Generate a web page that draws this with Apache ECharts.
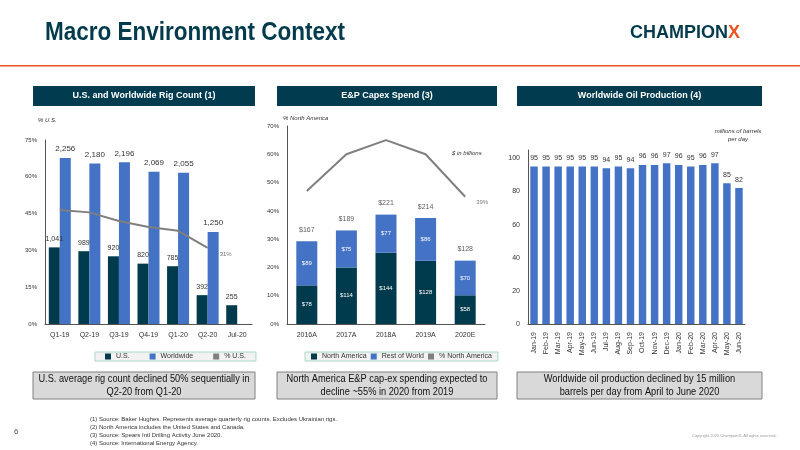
<!DOCTYPE html>
<html><head><meta charset="utf-8">
<script src="https://cdn.jsdelivr.net/npm/echarts@6/dist/echarts.min.js"></script>
<style>html,body{margin:0;padding:0;background:#fff}#c{width:800px;height:450px}</style>
</head><body><div id="c"></div>
<script>
const rigCats=['Q1-19','Q2-19','Q3-19','Q4-19','Q1-20','Q2-20','Jul-20'];
const rigUS=[1041,989,920,820,785,392,255];
const rigWW=[2256,2180,2196,2069,2055,1250,null];
const rigPct=[46.5,45.5,42,39.5,38,31,null];
const capCats=['2016A','2017A','2018A','2019A','2020E'];
const capNA=[78,114,144,128,58];
const capRW=[89,75,77,86,70];
const capTot=[167,189,221,214,128];
const capPct=[47,60,65,60,45];
const oilCats=['Jan-19','Feb-19','Mar-19','Apr-19','May-19','Jun-19','Jul-19','Aug-19','Sep-19','Oct-19','Nov-19','Dec-19','Jan-20','Feb-20','Mar-20','Apr-20','May-20','Jun-20'];
const oilVals=[95,95,95,95,95,95,94,95,94,96,96,97,96,95,96,97,85,82];

const DARK='#003A4D',BLUE='#4472C4',GRAY='#7F7F7F';
const F='Liberation Sans, Arial, sans-serif';
const ax={fontSize:7,color:'#333',fontFamily:F};
const lbl={show:true,fontSize:8,color:'#333',fontFamily:F};

function header(x,w,t){return [{type:'rect',shape:{x:x,y:86,width:w,height:20},style:{fill:'#003B4F'}},
 {type:'text',x:x+w/2,y:96,style:{text:t,fill:'#fff',font:'bold 9px '+F,align:'center',verticalAlign:'middle'}}];}
function box(x,w,t){return [{type:'rect',shape:{x:x,y:372,width:w,height:27},style:{fill:'#D9D9D9',stroke:'#808080',lineWidth:1}},
 {type:'text',x:x+w/2,y:385.5,scaleX:0.84,style:{text:t,fill:'#111',font:'11px '+F,align:'center',verticalAlign:'middle',lineHeight:13}}];}

const chart=echarts.init(document.getElementById('c'));
chart.setOption({
 animation:false,
 textStyle:{fontFamily:F},
 graphic:[
  {type:'text',x:45,y:21,scaleX:0.9,style:{text:'Macro Environment Context',fill:DARK,font:'bold 25px '+F}},
  {type:'text',x:630,y:24,style:{text:'{a|CHAMPION}{b|X}',rich:{a:{fill:DARK,font:'bold 18px '+F},b:{fill:'#E8541E',font:'bold 18px '+F}}}},
  {type:'rect',shape:{x:0,y:65,width:800,height:1.5},style:{fill:'#E8541E'}},
  ...header(33,222,'U.S. and Worldwide Rig Count (1)'),
  ...header(277,220,'E&P Capex Spend (3)'),
  ...header(517,245,'Worldwide Oil Production (4)'),
  ...box(33,222,'U.S. average rig count declined 50% sequentially in\nQ2-20 from Q1-20'),
  ...box(277,220,'North America E&P cap-ex spending expected to\ndecline ~55% in 2020 from 2019'),
  ...box(517,245,'Worldwide oil production declined by 15 million\nbarrels per day from April to June 2020'),
  {type:'text',x:38,y:117,style:{text:'% U.S.',fill:'#333',font:'italic 6px '+F}},
  {type:'text',x:283,y:115,style:{text:'% North America',fill:'#333',font:'italic 6px '+F}},
  {type:'text',x:452,y:150,style:{text:'$ in billions',fill:'#333',font:'italic 6px '+F}},
  {type:'text',x:738,y:127,style:{text:'millions of barrels\nper day',fill:'#333',font:'italic 6px '+F,align:'center',lineHeight:8}},
  {type:'text',x:90,y:415,style:{text:'(1) Source: Baker Hughes. Represents average quarterly rig counts. Excludes Ukrainian rigs.\n(2) North America includes the United States and Canada.\n(3) Source: Spears Intl Drilling Activity June 2020.\n(4) Source: International Energy Agency.',fill:'#333',font:'6px '+F,lineHeight:8}},
  {type:'text',x:14,y:428,style:{text:'6',fill:'#555',font:'8px '+F}},
  {type:'text',x:692,y:434,style:{text:'Copyright 2020 ChampionX. All rights reserved.',fill:'#999',font:'4px '+F}}
 ],
 legend:[
  {left:95,top:352,data:['U.S.','Worldwide','% U.S.'],itemWidth:6,itemHeight:6,itemGap:20,icon:'rect',
   textStyle:{fontSize:7,color:'#333'},borderColor:'#A8D8C8',borderWidth:1,backgroundColor:'#F2F2F2',padding:[1,10]},
  {left:305,top:352,data:['North America','Rest of World','% North America'],itemWidth:6,itemHeight:6,itemGap:4,icon:'rect',
   textStyle:{fontSize:7,color:'#333'},borderColor:'#A8D8C8',borderWidth:1,backgroundColor:'#F2F2F2',padding:[1,6]}
 ],
 grid:[
  {left:45,top:140,width:207,height:184},
  {left:287,top:126,width:198,height:198},
  {left:528,top:150,width:217,height:174}
 ],
 xAxis:[
  {type:'category',gridIndex:0,data:rigCats,axisTick:{show:false},axisLine:{lineStyle:{color:'#555'}},axisLabel:ax},
  {type:'category',gridIndex:1,data:capCats,axisTick:{show:false},axisLine:{lineStyle:{color:'#555'}},axisLabel:ax},
  {type:'category',gridIndex:2,data:oilCats,axisTick:{show:false},axisLine:{lineStyle:{color:'#555'}},axisLabel:{...ax,rotate:90,interval:0}}
 ],
 yAxis:[
  {type:'value',gridIndex:0,min:0,max:75,interval:15,axisLabel:{...ax,fontSize:6,formatter:'{value}%'},axisLine:{show:true,lineStyle:{color:'#555'}},splitLine:{show:false}},
  {type:'value',gridIndex:0,min:0,max:2500,show:false,splitLine:{show:false}},
  {type:'value',gridIndex:1,min:0,max:70,interval:10,axisLabel:{...ax,fontSize:6,formatter:'{value}%'},axisLine:{show:true,lineStyle:{color:'#555'}},splitLine:{show:false}},
  {type:'value',gridIndex:1,min:0,max:400,show:false,splitLine:{show:false}},
  {type:'value',gridIndex:2,min:0,max:105,interval:20,axisLabel:{...ax,showMaxLabel:false},axisLine:{show:true,lineStyle:{color:'#555'}},splitLine:{show:false}}
 ],
 series:[
  {name:'U.S.',type:'bar',xAxisIndex:0,yAxisIndex:1,data:rigUS,itemStyle:{color:DARK},barWidth:11,barGap:'0%',
   label:{...lbl,position:'top',fontSize:7,formatter:p=>p.value.toLocaleString('en-US')}},
  {name:'Worldwide',type:'bar',xAxisIndex:0,yAxisIndex:1,data:rigWW,itemStyle:{color:BLUE},barWidth:11,
   label:{...lbl,position:'top',formatter:p=>p.value.toLocaleString('en-US')}},
  {name:'% U.S.',type:'line',xAxisIndex:0,yAxisIndex:0,data:rigPct,symbol:'none',lineStyle:{color:GRAY,width:2},itemStyle:{color:GRAY},
   endLabel:{show:true,formatter:'31%',color:'#777',fontSize:6,offset:[4,6]}},
  {name:'North America',type:'bar',stack:'c',xAxisIndex:1,yAxisIndex:3,data:capNA,itemStyle:{color:DARK},barWidth:21,
   label:{show:true,position:'inside',fontSize:6,color:'#fff',formatter:'${c}'}},
  {name:'Rest of World',type:'bar',stack:'c',xAxisIndex:1,yAxisIndex:3,data:capRW,itemStyle:{color:BLUE},barWidth:21,
   label:{show:true,position:'inside',fontSize:6,color:'#fff',formatter:'${c}'}},
  {name:'tot',type:'scatter',xAxisIndex:1,yAxisIndex:3,data:capTot,symbolSize:0,
   label:{show:true,position:'top',distance:8,fontSize:7,color:'#333',formatter:'${c}'},tooltip:{show:false}},
  {name:'% North America',type:'line',xAxisIndex:1,yAxisIndex:2,data:capPct,symbol:'none',lineStyle:{color:GRAY,width:2},itemStyle:{color:GRAY},
   endLabel:{show:true,formatter:'39%',color:'#777',fontSize:6,offset:[3,6]}},
  {name:'oil',type:'bar',xAxisIndex:2,yAxisIndex:4,data:oilVals,itemStyle:{color:BLUE},barWidth:'62%',
   label:{...lbl,position:'top',fontSize:7}}
 ]
});
</script></body></html>
